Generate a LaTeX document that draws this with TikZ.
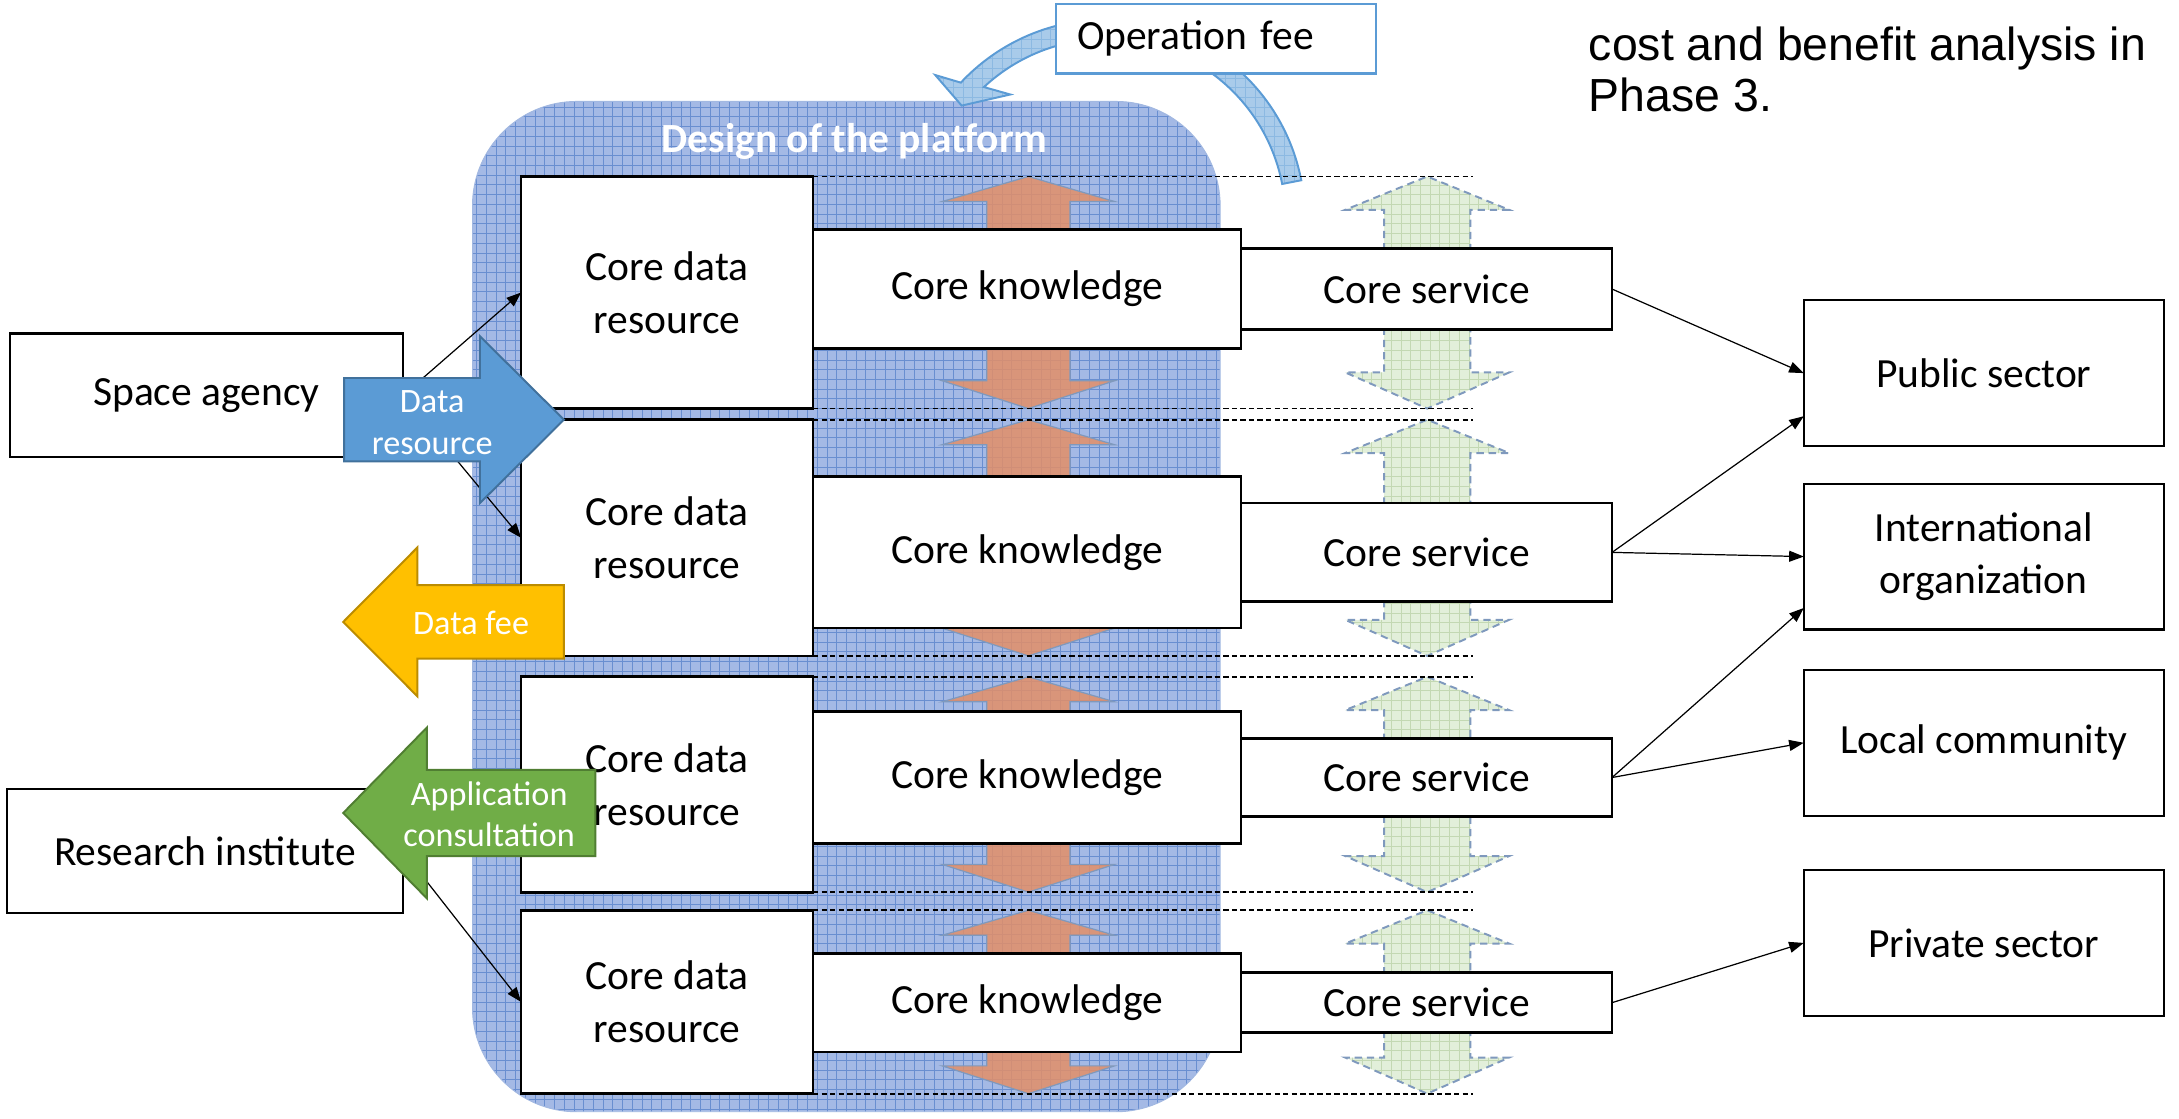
\documentclass[tikz,border=0pt]{standalone}
\usepackage{fontspec}
\setmainfont{Carlito}
\newfontfamily\notefont{Liberation Sans}
\usetikzlibrary{arrows.meta, positioning, calc}
\definecolor{PlatBlue}{HTML}{A4B9E5}
\definecolor{GridBlue}{HTML}{4472C4}
\definecolor{FeeBlue}{HTML}{5B9BD5}
\definecolor{FeeLight}{HTML}{A9CBEA}
\definecolor{KnowOrange}{HTML}{E38F68}
\definecolor{ServGreen}{HTML}{E2EFDA}
\definecolor{ServGrid}{HTML}{C3D8B3}
\definecolor{DashBlue}{HTML}{7F99BD}
\definecolor{ResBlue}{HTML}{5B9BD5}
\definecolor{ResBlueDark}{HTML}{41719C}
\definecolor{FeeGold}{HTML}{FFC000}
\definecolor{FeeGoldDark}{HTML}{BC8C00}
\definecolor{AppGreen}{HTML}{70AD47}
\definecolor{AppGreenDark}{HTML}{507E32}
\tikzset{
    platform/.style={rounded corners=1.5cm, fill=PlatBlue, draw=GridBlue!50, line width=0.4pt,
        path picture={\draw[GridBlue!80, line width=0.3pt, step=1.4mm] (path picture bounding box.south west) grid (path picture bounding box.north east);}},
    platformtitle/.style={font=\fontsize{17}{20}\selectfont\bfseries, text=white},
    corebox/.style={rectangle, draw=black, fill=white, line width=1.1pt, align=center, inner sep=0pt, outer sep=0pt, font=\fontsize{17}{21.6}\selectfont},
    userbox/.style={rectangle, draw=black, fill=white, line width=0.9pt, align=center, inner sep=0pt, outer sep=0pt, font=\fontsize{17}{21}\selectfont},
    opbox/.style={rectangle, draw=FeeBlue, fill=white, line width=1pt, inner xsep=0.3cm, font=\fontsize{17}{20}\selectfont},
    feecurve/.style={fill=FeeLight, draw=FeeBlue, line width=0.8pt,
        path picture={\draw[FeeBlue!70, line width=0.25pt, step=1.4mm] (path picture bounding box.south west) grid (path picture bounding box.north east);}},
    knowarrow/.style={fill=KnowOrange, fill opacity=0.85, draw=DashBlue, line width=0.5pt},
    servarrow/.style={fill=ServGreen, draw=DashBlue, line width=0.8pt, dash pattern=on 3pt off 2pt,
        path picture={\draw[ServGrid, line width=0.25pt, step=1.4mm, solid] (path picture bounding box.south west) grid (path picture bounding box.north east);}},
    guide/.style={draw=black, line width=0.7pt, dash pattern=on 2.2pt off 1.3pt},
    link/.style={->, >={Triangle[length=6pt, width=4.5pt]}, draw=black, line width=0.5pt},
    resarrow/.style={fill=ResBlue, draw=ResBlueDark, line width=0.8pt},
    datafeearrow/.style={fill=FeeGold, draw=FeeGoldDark, line width=0.8pt},
    apparrow/.style={fill=AppGreen, draw=AppGreenDark, line width=0.8pt},
    arrowtext/.style={align=center, text=white, inner sep=0pt, font=\fontsize{14}{17}\selectfont},
    notetext/.style={align=left, inner sep=0pt, font=\notefont\fontsize{19}{21}\selectfont}
}
\newcommand{\vblock}[7]{%
    \draw[#1] ({#2-#3},#5) -- ({#2-#3},#6) -- ({#2-#4},#6) -- (#2,#7)
        -- ({#2+#4},#6) -- ({#2+#3},#6) -- ({#2+#3},#5) -- cycle;}

\begin{document}
\begin{tikzpicture}[x=0.2mm, y=-0.2mm]
    \useasboundingbox (0,0) rectangle (1568,805);

    % Platform
    \path[platform] (340,73) rectangle (878,800);
    \node[platformtitle] (title) at (615,102) {Design of the platform};

    % Operation fee
    \coordinate (opc) at (796,157);
    \draw[feecurve] ($(opc)+(-11:143)$) arc[start angle=-11, end angle=-137, radius=143]
        -- (673,54) -- (692,76) -- (727,68)
        -- ($(opc)+(-133:129)$) arc[start angle=-133, end angle=-11, radius=129] -- cycle;
    \node[opbox, minimum width=4.6cm, minimum height=1.0cm, text width=4.0cm, align=left] (opfee) at (875,28) {Operation fee};

    % Flows between layers
    \foreach \cdrT/\cdrB/\ckT/\ckB/\csT/\csB in {127/294/165/251/179/237, 302/472/343/452/362/433,
            487/642/512/607/532/588, 655/787/686/757/700/743} {
        \vblock{knowarrow}{740}{30}{62}{\ckT+10}{\cdrT+18}{\cdrT}
        \vblock{knowarrow}{740}{30}{62}{\ckB-10}{\cdrB-20}{\cdrB}
        \vblock{servarrow}{1027}{31}{59}{\csT+10}{\cdrT+24}{\cdrT}
        \vblock{servarrow}{1027}{31}{59}{\csB-10}{\cdrB-26}{\cdrB}
        \draw[guide] (585,\cdrT) -- (1060,\cdrT);
        \draw[guide] (585,\cdrB) -- (1060,\cdrB);
    }

    % Core layers
    \node[corebox, minimum width=4.2cm, minimum height=3.34cm] (cdr1) at (480,210.5) {Core data\\resource};
    \node[corebox, minimum width=4.2cm, minimum height=3.4cm] (cdr2) at (480,387) {Core data\\resource};
    \node[corebox, minimum width=4.2cm, minimum height=3.1cm] (cdr3) at (480,564.5) {Core data\\resource};
    \node[corebox, minimum width=4.2cm, minimum height=2.64cm] (cdr4) at (480,721) {Core data\\resource};
    \node[corebox, minimum width=6.16cm, minimum height=1.72cm] (ck1) at (739,208) {Core knowledge};
    \node[corebox, minimum width=6.16cm, minimum height=2.18cm] (ck2) at (739,397.5) {Core knowledge};
    \node[corebox, minimum width=6.16cm, minimum height=1.9cm] (ck3) at (739,559.5) {Core knowledge};
    \node[corebox, minimum width=6.16cm, minimum height=1.42cm] (ck4) at (739,721.5) {Core knowledge};
    \node[corebox, minimum width=5.34cm, minimum height=1.16cm, right=0pt of ck1] (cs1) {Core service};
    \node[corebox, minimum width=5.34cm, minimum height=1.42cm, right=0pt of ck2] (cs2) {Core service};
    \node[corebox, minimum width=5.34cm, minimum height=1.12cm, right=0pt of ck3] (cs3) {Core service};
    \node[corebox, minimum width=5.34cm, minimum height=0.86cm, right=0pt of ck4] (cs4) {Core service};

    % Suppliers and users
    \node[userbox, minimum width=5.66cm, minimum height=1.78cm] (space) at (148.5,284.5) {Space agency};
    \node[userbox, minimum width=5.7cm, minimum height=1.78cm] (research) at (147.5,612.5) {Research institute};
    \node[userbox, minimum width=5.18cm, minimum height=2.1cm] (public) at (1427.5,268.5) {Public sector};
    \node[userbox, minimum width=5.18cm, minimum height=2.1cm, below=0.54cm of public] (intl) {International\\organization};
    \node[userbox, minimum width=5.18cm, minimum height=2.1cm, below=0.58cm of intl] (local) {Local community};
    \node[userbox, minimum width=5.18cm, minimum height=2.1cm, below=0.78cm of local] (private) {Private sector};

    % Paths
    \draw[link] (space.east) -- (cdr1.west);
    \draw[link] (space.east) -- (cdr2.west);
    \draw[link] (research.east) -- (cdr4.west);
    \draw[link] (cs1.east) -- (public.west);
    \draw[link] (cs2.east) -- ($(public.west)+(0,31)$);
    \draw[link] (cs2.east) -- (intl.west);
    \draw[link] (cs3.east) -- ($(intl.west)+(0,37)$);
    \draw[link] (cs3.east) -- (local.west);
    \draw[link] (cs4.east) -- (private.west);

    % Money and data flows
    \draw[resarrow] (247.7,272) -- (345.4,272) -- (345.4,242) -- (405.8,302) -- (345.4,362) -- (345.4,332) -- (247.7,332) -- cycle;
    \node[arrowtext] (resl) at (311,304) {Data\\resource};
    \draw[datafeearrow] (247,447.5) -- (300.3,394) -- (300.3,421) -- (405.8,421) -- (405.8,474) -- (300.3,474) -- (300.3,501) -- cycle;
    \node[arrowtext] (feel) at (339,448) {Data fee};
    \draw[apparrow] (247,585) -- (307.2,523.5) -- (307.2,554) -- (428.4,554) -- (428.4,616) -- (307.2,616) -- (307.2,646.5) -- cycle;
    \node[arrowtext] (appl) at (352,586) {Application\\consultation};

    \node[notetext, anchor=west] (note) at (1143,50) {cost and benefit analysis in\\Phase 3.};
\end{tikzpicture}
\end{document}
